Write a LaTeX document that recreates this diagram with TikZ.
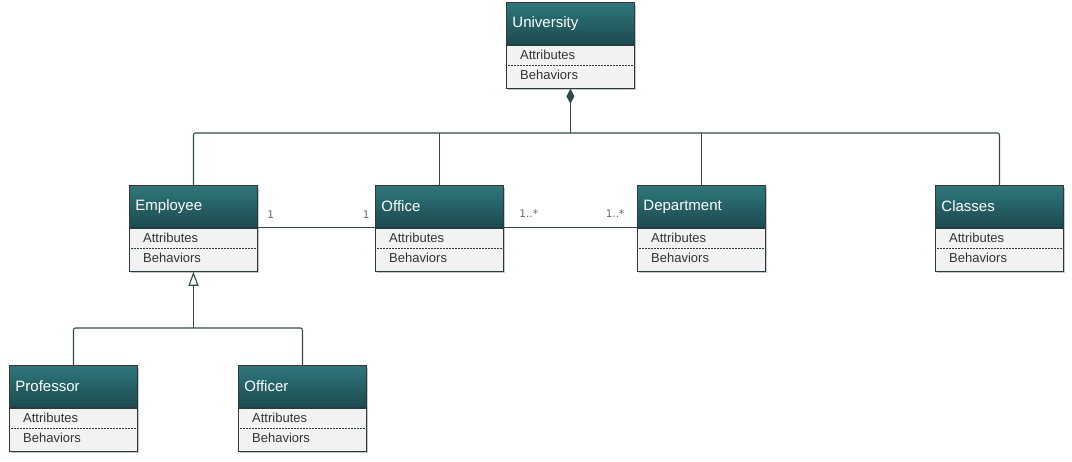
\documentclass[tikz,border=0pt]{standalone}
\usepackage{fontspec}
\setmainfont{Liberation Sans}
\newfontfamily\multfont{DejaVu Sans}
\usetikzlibrary{arrows.meta,shadows,positioning}
\definecolor{headtop}{HTML}{2F777B}
\definecolor{headbot}{HTML}{1C4A4F}
\definecolor{boxline}{HTML}{2A3A40}
\definecolor{bodyfill}{HTML}{F2F2F2}
\definecolor{connline}{HTML}{33484D}
% one class box: name, top left x, top left y, title
\newcommand{\umlclass}[4]{%
  \path[drop shadow={shadow xshift=2pt,shadow yshift=-3pt,opacity=.45}] (#2,#3) rectangle ++(128,85);
  \node[head] (#1) at (#2,#3) {#4};
  \node[body] (#1-b) at (#1.south west) {};
  \node[memb] at ([xshift=14pt,yshift=-10pt]#1-b.north west) {Attributes};
  \draw[sep] ([xshift=2pt,yshift=-21pt]#1-b.north west) -- ([xshift=-2pt,yshift=-21pt]#1-b.north east);
  \node[memb] at ([xshift=14pt,yshift=-30pt]#1-b.north west) {Behaviors};
}
\begin{document}
\begin{tikzpicture}[x=1pt,y=-1pt,
    head/.style={draw=boxline,line width=.9pt,top color=headtop,bottom color=headbot,text=white,
      anchor=north west,minimum width=128pt,minimum height=42pt,inner xsep=6pt,
      text width=116pt,align=left,font=\fontsize{15}{17}\selectfont},
    body/.style={draw=boxline,line width=.9pt,fill=bodyfill,anchor=north west,
      minimum width=128pt,minimum height=43pt,inner sep=0pt},
    memb/.style={anchor=west,inner sep=0pt,text=black!80,font=\fontsize{13}{15}\selectfont},
    sep/.style={boxline,line width=.8pt,dash pattern=on 2pt off 1pt},
    conn/.style={connline,line width=1.1pt},
    mult/.style={inner sep=0pt,text=black!60,font=\multfont\fontsize{10.5}{12}\selectfont}]
  \useasboundingbox (0,0) rectangle (1072,462);
  \umlclass{uni}{506}{2}{University}
  \umlclass{emp}{129}{185}{Employee}
  \umlclass{off}{375}{185}{Office}
  \umlclass{dept}{637}{185}{Department}
  \umlclass{cls}{935}{185}{Classes}
  \umlclass{prof}{9}{365}{Professor}
  \umlclass{offr}{238}{365}{Officer}
  % composition
  \coordinate (junc) at (uni-b.south |- 0,133);
  \draw[conn,{Diamond[length=15pt,width=8pt]}-] (uni-b.south) -- (junc);
  \draw[conn,rounded corners=2pt] (emp.north) |- (junc) -| (cls.north);
  \draw[conn] (off.north) -- (off.north |- junc);
  \draw[conn] (dept.north) -- (dept.north |- junc);
  % associations
  \draw[conn] (emp-b.north east) -- (off-b.north west)
    node[mult,pos=0,anchor=south west,xshift=9pt,yshift=9pt] {1}
    node[mult,pos=1,anchor=south east,xshift=-5pt,yshift=9pt] {1};
  \draw[conn] (off-b.north east) -- (dept-b.north west)
    node[mult,pos=0,anchor=south west,xshift=15pt,yshift=10pt] {1..*}
    node[mult,pos=1,anchor=south east,xshift=-12pt,yshift=10pt] {1..*};
  % generalization
  \coordinate (gen) at (emp-b.south |- 0,328);
  \draw[conn,-{Triangle[length=14pt,width=10pt,fill=white]}] (gen) -- (emp-b.south);
  \draw[conn,rounded corners=2pt] (prof.north) |- (gen) -| (offr.north);
\end{tikzpicture}
\end{document}
